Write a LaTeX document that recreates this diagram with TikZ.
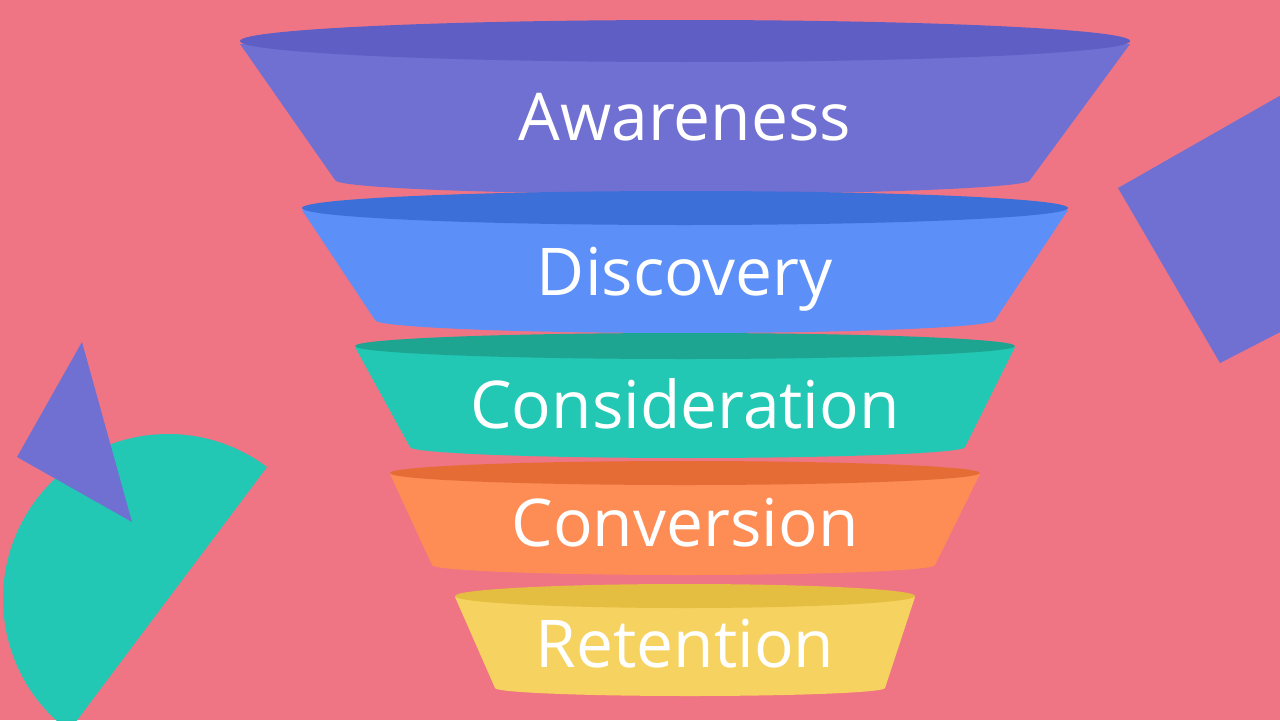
\documentclass[tikz,border=0pt]{standalone}
\usepackage{fontspec}
\setmainfont{Open Sans}

\definecolor{bg}{HTML}{EF7585}
\definecolor{awaretop}{HTML}{5E5EC4}
\definecolor{awarebody}{HTML}{7070D2}
\definecolor{disctop}{HTML}{3D6FD8}
\definecolor{discbody}{HTML}{5C8FF8}
\definecolor{constop}{HTML}{1DA592}
\definecolor{consbody}{HTML}{22C8B4}
\definecolor{convtop}{HTML}{E56C35}
\definecolor{convbody}{HTML}{FD8C55}
\definecolor{rettop}{HTML}{E4BE40}
\definecolor{retbody}{HTML}{F6D260}

\begin{document}
\begin{tikzpicture}[x=0.02cm, y=-0.02cm,
    stage/.style={anchor=base, text=white, inner sep=0pt, font=\fontsize{37.5}{42}\selectfont}]
        \fill[bg] (0, 0) rectangle (1280, 720);
        \useasboundingbox (0, 0) rectangle (1280, 720);

        % Shapes in the corners
        \begin{scope}
            \clip (0, 0) rectangle (1280, 720);
            \fill[consbody] (267, 467) arc[start angle=-53.13, end angle=-233.13, radius=165] -- cycle;
            \fill[awarebody] (82, 342) -- (17, 457) -- (132, 522) -- cycle;
            \fill[awarebody] (1118, 188) -- (1290, 90) -- (1290, 327) -- (1220, 363) -- cycle;
        \end{scope}

        % Awareness
        \fill[awarebody] (240, 44) -- (335, 180) arc[start angle=180, end angle=0, x radius=347.5, y radius=14] -- (1130, 44) -- cycle;
        \fill[awaretop] (685, 41) ellipse (445 and 21);
        \node[stage] (awareness) at (685, 140) {Awareness};

        % Discovery
        \fill[discbody] (302, 210) -- (375, 320) arc[start angle=180, end angle=0, x radius=310, y radius=13] -- (1068, 210) -- cycle;
        \fill[disctop] (685, 208) ellipse (383 and 17);
        \node[stage] (discovery) at (685, 295) {Discovery};

        % Consideration
        \fill[consbody] (355, 347) -- (410, 447) arc[start angle=180, end angle=0, x radius=277.5, y radius=11] -- (1015, 347) -- cycle;
        \fill[constop] (685, 346) ellipse (330 and 13);
        \node[stage] (consideration) at (685, 428) {Consideration};

        % Conversion
        \fill[convbody] (390, 474) -- (432, 565) arc[start angle=180, end angle=0, x radius=251.5, y radius=10] -- (980, 474) -- cycle;
        \fill[convtop] (685, 473) ellipse (295 and 12);
        \node[stage] (conversion) at (685, 546) {Conversion};

        % Retention
        \fill[retbody] (455, 597) -- (495, 688) arc[start angle=180, end angle=0, x radius=195, y radius=8] -- (915, 597) -- cycle;
        \fill[rettop] (685, 596) ellipse (230 and 12);
        \node[stage] (retention) at (685, 667) {Retention};
    \end{tikzpicture}
\end{document}
